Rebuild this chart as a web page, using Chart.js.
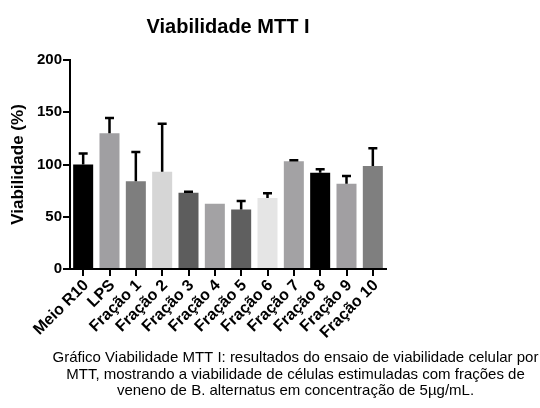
<!DOCTYPE html>
<html>
<head>
<meta charset="utf-8">
<script src="https://cdn.jsdelivr.net/npm/chart.js@4.4.1/dist/chart.umd.min.js"></script>
<style>
  html, body { margin: 0; padding: 0; background: #fff; }
  #wrap { width: 540px; height: 408px; position: relative; }
</style>
</head>
<body>
<div id="wrap"><canvas id="c" width="540" height="408"></canvas></div>
<script>
const categories = ['Meio R10', 'LPS', 'Fração 1', 'Fração 2', 'Fração 3', 'Fração 4', 'Fração 5', 'Fração 6', 'Fração 7', 'Fração 8', 'Fração 9', 'Fração 10'];
const viabilidade = [100, 130, 84, 93, 73, 62.5, 57, 68, 103, 92, 81.5, 98.5];
const erroSuperior = [10.5, 14.5, 28, 46, 1, 0, 8, 4.5, 1, 3.5, 7.5, 17];
const barColors = ['#000000', '#a09fa2', '#7e7e7e', '#d6d6d6', '#5d5d5d', '#a3a2a4', '#5f5f5f', '#e5e5e5', '#a3a2a4', '#000000', '#a19fa2', '#7f7f7f'];
const yTicks = [0, 50, 100, 150, 200];
const chartTitle = 'Viabilidade MTT I';
const yTitle = 'Viabilidade (%)';
const captionLines = [
  'Gráfico Viabilidade MTT I: resultados do ensaio de viabilidade celular por',
  'MTT, mostrando a viabilidade de células estimuladas com frações de',
  'veneno de B. alternatus em concentração de 5\u00b5g/mL.'
];

const FONT = "'Liberation Sans', Arial, Helvetica, sans-serif";

const errorBars = {
  id: 'errorBars',
  afterDatasetsDraw(chart) {
    const ctx = chart.ctx;
    const meta = chart.getDatasetMeta(0);
    const y = chart.scales.y;
    ctx.save();
    ctx.strokeStyle = '#000';
    ctx.lineWidth = 2.5;
    meta.data.forEach((bar, i) => {
      const e = erroSuperior[i];
      if (!e) return;
      const x = bar.x;
      const y0 = y.getPixelForValue(viabilidade[i]);
      const y1 = y.getPixelForValue(viabilidade[i] + e);
      ctx.beginPath();
      ctx.moveTo(x, y0);
      ctx.lineTo(x, y1);
      ctx.moveTo(x - 4.5, y1);
      ctx.lineTo(x + 4.5, y1);
      ctx.stroke();
    });
    ctx.restore();
  }
};

const texts = {
  id: 'texts',
  afterDraw(chart) {
    const ctx = chart.ctx;
    const a = chart.chartArea;
    ctx.save();
    ctx.fillStyle = '#000';
    ctx.textAlign = 'center';
    ctx.textBaseline = 'middle';
    ctx.font = 'bold 20px ' + FONT;
    ctx.fillText(chartTitle, (a.left + a.right) / 2, 27);
    ctx.font = '15px ' + FONT;
    const cy = [358, 374.5, 391];
    captionLines.forEach((t, i) => ctx.fillText(t, 295.5, cy[i]));
    ctx.restore();
  }
};

new Chart(document.getElementById('c'), {
  type: 'bar',
  data: {
    labels: categories,
    datasets: [{
      data: viabilidade,
      backgroundColor: barColors,
      borderWidth: 0,
      barPercentage: 0.76,
      categoryPercentage: 1.0
    }]
  },
  options: {
    responsive: false,
    animation: false,
    devicePixelRatio: 1,
    layout: { padding: { top: 60, right: 154, bottom: 0, left: 0 } },
    plugins: {
      legend: { display: false },
      tooltip: { enabled: false },
      title: { display: false }
    },
    scales: {
      x: {
        afterFit(s) { s.height = 139; },
        grid: { display: true, offset: false, drawOnChartArea: false, drawTicks: true, tickLength: 7, color: '#000', lineWidth: 2 },
        border: { display: true, color: '#000', width: 2 },
        ticks: {
          autoSkip: false, minRotation: 45, maxRotation: 45, padding: 0, labelOffset: 3,
          color: '#000', font: { family: FONT, size: 16, weight: 'bold' }
        }
      },
      y: {
        min: 0, max: 200,
        afterFit(s) { s.width = 70; },
        afterBuildTicks(s) { s.ticks = yTicks.map(v => ({ value: v })); },
        grid: { display: true, drawOnChartArea: false, drawTicks: true, tickLength: 7, color: '#000', lineWidth: 2 },
        border: { display: true, color: '#000', width: 2 },
        ticks: {
          padding: 1, color: '#000',
          font: { family: FONT, size: 15, weight: 'bold' }
        },
        title: {
          display: true, text: yTitle, color: '#000',
          padding: { top: 8, bottom: 0 },
          font: { family: FONT, size: 17, weight: 'bold' }
        }
      }
    }
  },
  plugins: [errorBars, texts]
});
</script>
</body>
</html>
